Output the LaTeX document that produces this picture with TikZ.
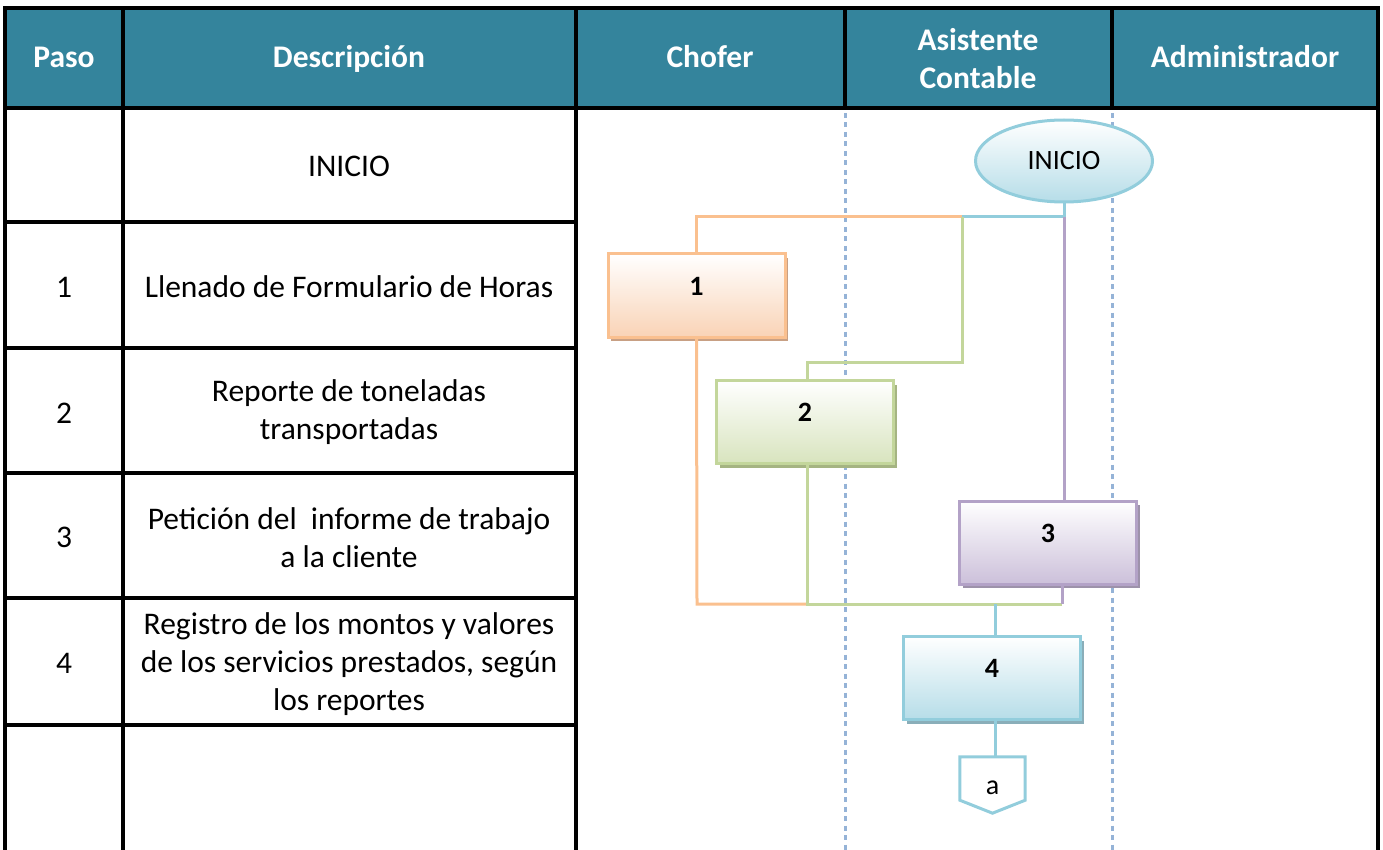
\documentclass[tikz,border=0pt]{standalone}
\usepackage{fontspec}
\setmainfont{Carlito}
\usetikzlibrary{shapes.geometric,shadows,calc}
\definecolor{hdr}{HTML}{34849C}
\definecolor{lane}{HTML}{95B3D7}
\definecolor{cor}{HTML}{FAC08F}
\definecolor{corf}{HTML}{F9D3B6}
\definecolor{cors}{HTML}{C8A084}
\definecolor{cgr}{HTML}{C3D69B}
\definecolor{cgrf}{HTML}{D8E4BE}
\definecolor{cgrs}{HTML}{A5B482}
\definecolor{cpu}{HTML}{B3A2C7}
\definecolor{cpuf}{HTML}{CCC0DA}
\definecolor{cpus}{HTML}{9D92AA}
\definecolor{cbl}{HTML}{92CDDC}
\definecolor{cblf}{HTML}{B6DDE8}
\definecolor{cbls}{HTML}{8AAEB9}
\tikzset{
  grid/.style={line width=3.2pt, black},
  hdrtext/.style={text=white, font=\fontsize{31.5}{38}\selectfont\bfseries, align=center, inner sep=0pt},
  bodytext/.style={font=\fontsize{31.5}{38}\selectfont, align=center, inner sep=0pt},
  oneline/.style={text height=22pt, text depth=2pt},
  lanesep/.style={lane, line width=3pt, dash pattern=on 5pt off 4.5pt},
  conn/.style={line width=3pt},
  stepbox/.style={rectangle, minimum width=177pt, minimum height=83pt, line width=3pt,
    text height=19pt, text depth=20pt, font=\fontsize{28}{30}\selectfont\bfseries, inner sep=0pt},
  orbox/.style={stepbox, draw=cor, top color=white, bottom color=corf,
    drop shadow={shadow xshift=3pt, shadow yshift=-4pt, fill=cors, opacity=1}},
  grbox/.style={stepbox, draw=cgr, top color=white, bottom color=cgrf,
    drop shadow={shadow xshift=3pt, shadow yshift=-4pt, fill=cgrs, opacity=1}},
  pubox/.style={stepbox, draw=cpu, top color=white, bottom color=cpuf,
    drop shadow={shadow xshift=3pt, shadow yshift=-4pt, fill=cpus, opacity=1}},
  blbox/.style={stepbox, draw=cbl, top color=white, bottom color=cblf,
    drop shadow={shadow xshift=3pt, shadow yshift=-4pt, fill=cbls, opacity=1}},
  startnode/.style={ellipse, minimum width=177pt, minimum height=82pt, inner sep=0pt,
    line width=3pt, draw=cbl, top color=white, bottom color=cblf,
    font=\fontsize{28}{30}\selectfont},
}
\begin{document}
\begin{tikzpicture}[x=1pt,y=-1pt]
\useasboundingbox (0,0) rectangle (1383,850);
% header
\fill[hdr] (5,8) rectangle (1378,108);
\draw[grid] (5,8) -- (1378,8);
\draw[grid] (5,108) -- (1378,108);
\foreach \yy in {222,348,473,598,725} \draw[grid] (5,\yy) -- (576,\yy);
\foreach \xx in {5,123,576,1378} \draw[grid] (\xx,6.4) -- (\xx,852);
\foreach \xx in {845,1112} \draw[grid] (\xx,8) -- (\xx,108);
% lane separators
\foreach \xx in {845,1112} \draw[lanesep] (\xx,113) -- (\xx,852);
% header texts
\node[hdrtext, oneline] (hpaso) at (64,58) {Paso};
\node[hdrtext, oneline] (hdesc) at (349,58) {Descripción};
\node[hdrtext, oneline] (hchof) at (710,58) {Chofer};
\node[hdrtext] (hasis) at (978,59) {Asistente\\Contable};
\node[hdrtext, oneline] (hadm) at (1245,58) {Administrador};
% body texts
\node[bodytext, oneline] (d0) at (349,167) {INICIO};
\node[bodytext, oneline] (p1) at (64,287) {1};
\node[bodytext, oneline] (d1) at (349,287) {Llenado de Formulario de Horas};
\node[bodytext, oneline] (p2) at (64,413) {2};
\node[bodytext] (d2) at (349,412) {Reporte de toneladas\\transportadas};
\node[bodytext, oneline] (p3) at (64,537) {3};
\node[bodytext] (d3) at (349,538) {Petición del\ \ informe de trabajo\\a la cliente};
\node[bodytext, oneline] (p4) at (64,663) {4};
\node[bodytext] (d4) at (349,664) {Registro de los montos y valores\\de los servicios prestados, según\\los reportes};
% junction coordinates
\coordinate (jt) at (1063,217);
\coordinate (jg) at (962,217);
\coordinate (jgm) at (962,362);
\coordinate (jb) at (1062,604);
\coordinate (jbo) at (697,604);
\coordinate (jbg) at (807,604);
\coordinate (jbb) at (995,604);
% flow nodes
\node[startnode] (ini) at (1064,161) {INICIO};
\node[orbox] (b1) at (696.5,295.5) {1};
\node[grbox] (b2) at (805,422) {2};
\node[pubox] (b3) at (1048,542.5) {3};
\node[blbox] (b4) at (992,678) {4};
\node[inner sep=0pt, minimum width=65pt, minimum height=43pt, text height=32pt, text depth=0pt,
      font=\fontsize{28}{30}\selectfont] (a) at (992.5,778.5) {a};
\draw[cbl, line width=3pt, line join=miter] (a.north west) -- (a.north east) -- (a.south east)
   -- ($(a.south)+(0,13)$) -- (a.south west) -- cycle;
% connectors
\draw[conn, cbl] (ini.south) -- (ini.south |- jt) -- (jg);
\draw[conn, cor] (jg) -- (jg -| b1.north) -- (b1.north);
\draw[conn, cgr] (jg) -- (jgm) -- (jgm -| jbg) -- (b2.north -| jbg);
\draw[conn, cpu] (ini.south |- jt) -- (b3.north -| ini.south);
\draw[conn, cor] (b1.south) -- (jbo) -- (jbg);
\draw[conn, cgr] (b2.south -| jbg) -- (jbg) -- (jb);
\draw[conn, cpu] (b3.south -| jb) -- (jb);
\draw[conn, cbl] (jbb) -- (b4.north -| jbb);
\draw[conn, cbl] (b4.south -| jbb) -- (a.north -| jbb);
\end{tikzpicture}
\end{document}
